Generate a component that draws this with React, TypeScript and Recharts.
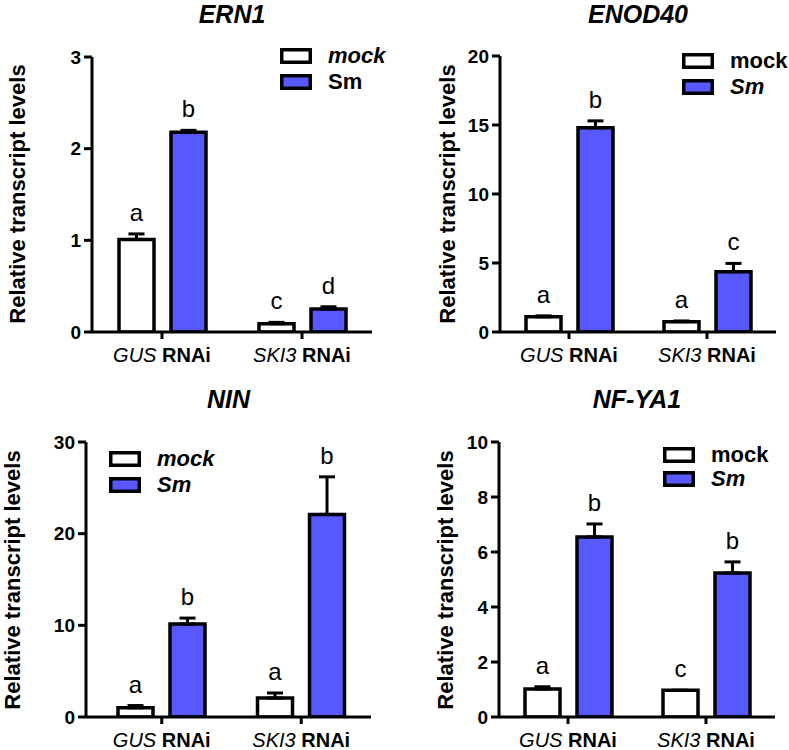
import React from 'react';
import { BarChart, Bar, XAxis, YAxis, ErrorBar, LabelList, Legend } from 'recharts';

const FONT = '"Liberation Sans", Arial, Helvetica, sans-serif';
const BLUE = '#5858FF';

// ---------- data ----------
const categories = ['GUS', 'SKI3'];
const categorySuffix = 'RNAi';
const seriesNames = ['mock', 'Sm'];

const ern1Mock = [1.01, 0.09];
const ern1MockErr = [0.06, 0.015];
const ern1Sm = [2.18, 0.25];
const ern1SmErr = [0.02, 0.025];
const ern1MockLetters = ['a', 'c'];
const ern1SmLetters = ['b', 'd'];
const ern1Ticks = [0, 1, 2, 3];

const enod40Mock = [1.1, 0.75];
const enod40MockErr = [0.07, 0.05];
const enod40Sm = [14.8, 4.37];
const enod40SmErr = [0.5, 0.6];
const enod40MockLetters = ['a', 'a'];
const enod40SmLetters = ['b', 'c'];
const enod40Ticks = [0, 5, 10, 15, 20];

const ninMock = [1.0, 2.07];
const ninMockErr = [0.25, 0.55];
const ninSm = [10.14, 22.1];
const ninSmErr = [0.65, 4.1];
const ninMockLetters = ['a', 'a'];
const ninSmLetters = ['b', 'b'];
const ninTicks = [0, 10, 20, 30];

const nfyaMock = [1.02, 0.97];
const nfyaMockErr = [0.08, 0];
const nfyaSm = [6.55, 5.24];
const nfyaSmErr = [0.47, 0.4];
const nfyaMockLetters = ['a', 'c'];
const nfyaSmLetters = ['b', 'b'];
const nfyaTicks = [0, 2, 4, 6, 8, 10];

type Row = {
  name: string;
  mock: number;
  mockErr: number[];
  mockLetter: string;
  sm: number;
  smErr: number[];
  smLetter: string;
};

function buildRows(
  mock: number[], mockErr: number[], sm: number[], smErr: number[],
  mockLetters: string[], smLetters: string[]
): Row[] {
  return categories.map((c, i) => ({
    name: c,
    mock: mock[i],
    mockErr: [0, mockErr[i]],
    mockLetter: mockLetters[i],
    sm: sm[i],
    smErr: [0, smErr[i]],
    smLetter: smLetters[i],
  }));
}

type PanelCfg = {
  title: string;
  rows: Row[];
  ticks: number[];
  left: number;
  top: number;
  width: number;
  height: number;
  yAxisWidth: number;
  padLeft: number;
  margin: { top: number; right: number; bottom: number; left: number };
  legendPos: { left: number; top: number; gap: number };
  italic: boolean[];
  labelX: number;
  labelY: number;
  titleY: number;
};

const panels: PanelCfg[] = [
  {
    title: 'ERN1',
    rows: buildRows(ern1Mock, ern1MockErr, ern1Sm, ern1SmErr, ern1MockLetters, ern1SmLetters),
    ticks: ern1Ticks,
    left: 0, top: 0, width: 400, height: 370,
    yAxisWidth: 92, padLeft: 0,
    margin: { top: 57, right: 28, bottom: 8, left: 0 },
    legendPos: { left: 280, top: 48, gap: 26 },
    italic: [true, false],
    labelX: 25, labelY: 194, titleY: 23,
  },
  {
    title: 'ENOD40',
    rows: buildRows(enod40Mock, enod40MockErr, enod40Sm, enod40SmErr, enod40MockLetters, enod40SmLetters),
    ticks: enod40Ticks,
    left: 400, top: 0, width: 389, height: 370,
    yAxisWidth: 100, padLeft: 0,
    margin: { top: 56, right: 13, bottom: 8, left: 0 },
    legendPos: { left: 282, top: 53, gap: 26 },
    italic: [false, true],
    labelX: 55, labelY: 194, titleY: 23,
  },
  {
    title: 'NIN',
    rows: buildRows(ninMock, ninMockErr, ninSm, ninSmErr, ninMockLetters, ninSmLetters),
    ticks: ninTicks,
    left: 0, top: 380, width: 400, height: 370,
    yAxisWidth: 86, padLeft: 6,
    margin: { top: 62, right: 29, bottom: 3, left: 0 },
    legendPos: { left: 109, top: 71, gap: 26 },
    italic: [true, true],
    labelX: 20, labelY: 200, titleY: 28,
  },
  {
    title: 'NF-YA1',
    rows: buildRows(nfyaMock, nfyaMockErr, nfyaSm, nfyaSmErr, nfyaMockLetters, nfyaSmLetters),
    ticks: nfyaTicks,
    left: 400, top: 380, width: 389, height: 370,
    yAxisWidth: 99, padLeft: 0,
    margin: { top: 62, right: 14, bottom: 3, left: 0 },
    legendPos: { left: 263, top: 67, gap: 24 },
    italic: [false, true],
    labelX: 53, labelY: 200, titleY: 28,
  },
];

// ---------- components ----------
const XTick = (props: any) => {
  const { x, y, payload } = props;
  return (
    <text x={x} y={y + 23} textAnchor="middle" fontSize={20} fontFamily={FONT} fill="#000" style={{ whiteSpace: 'pre' }}>
      <tspan fontStyle="italic">{payload.value}</tspan>
      <tspan fontWeight="bold">{' ' + categorySuffix}</tspan>
    </text>
  );
};

function makeLetter(rows: Row[], valueKey: 'mock' | 'sm', errKey: 'mockErr' | 'smErr', letterKey: 'mockLetter' | 'smLetter') {
  return (props: any) => {
    const vb = props.viewBox && props.viewBox.width !== undefined ? props.viewBox : props;
    const row = rows.find((r) => r.name === props.value);
    if (!row) return null;
    let { x, y, width, height } = vb;
    if (height < 0) {
      y = y + height;
      height = -height;
    }
    const v = row[valueKey];
    const e = row[errKey][1];
    const pxPerUnit = v ? height / v : 0;
    const topY = y - e * pxPerUnit;
    return (
      <text x={x + width / 2} y={topY - 13} textAnchor="middle" fontSize={24} fontFamily={FONT} fill="#000">
        {row[letterKey]}
      </text>
    );
  };
}

function makeLegend(cfg: PanelCfg) {
  return (props: any) => {
    const payload = [...(props.payload || [])].sort(
      (a: any, b: any) => seriesNames.indexOf(a.value) - seriesNames.indexOf(b.value)
    );
    const { gap } = cfg.legendPos;
    return (
      <svg width={140} height={50} style={{ overflow: 'visible', display: 'block' }}>
        {payload.map((p: any, i: number) => (
          <g key={i}>
            <rect x={1.75} y={1.75 + i * gap} width={28.5} height={12.5} fill={p.color} stroke="#000" strokeWidth={3.5} />
            <text
              x={48}
              y={15 + i * gap}
              fontSize={22}
              fontWeight="bold"
              fontStyle={cfg.italic[i] ? 'italic' : 'normal'}
              fontFamily={FONT}
              fill="#000"
            >
              {p.value}
            </text>
          </g>
        ))}
      </svg>
    );
  };
}

function Panel({ cfg }: { cfg: PanelCfg }) {
  const max = cfg.ticks[cfg.ticks.length - 1];
  const plotLeft = cfg.yAxisWidth + cfg.margin.left;
  const plotRight = cfg.width - cfg.margin.right;
  const titleX = (plotLeft + plotRight) / 2;
  return (
    <div style={{ position: 'absolute', left: cfg.left, top: cfg.top, width: cfg.width, height: cfg.height }}>
      <BarChart
        width={cfg.width}
        height={cfg.height}
        data={cfg.rows}
        margin={cfg.margin}
        barSize={35}
        barGap={17}
      >
        <XAxis
          dataKey="name"
          height={30}
          padding={{ left: cfg.padLeft, right: 0 }}
          axisLine={{ stroke: '#000', strokeWidth: 3 }}
          tickLine={{ stroke: '#000', strokeWidth: 3 }}
          tickSize={7}
          tickMargin={0}
          tick={<XTick />}
          interval={0}
        />
        <YAxis
          width={cfg.yAxisWidth}
          domain={[0, max]}
          ticks={cfg.ticks}
          interval={0}
          allowDataOverflow
          axisLine={{ stroke: '#000', strokeWidth: 3 }}
          tickLine={{ stroke: '#000', strokeWidth: 3 }}
          tickSize={8}
          tickMargin={3}
          tick={{ fontSize: 19, fontWeight: 'bold', fill: '#000', fontFamily: FONT }}
        />
        <Legend
          layout="vertical"
          align="center"
          verticalAlign="middle"
          wrapperStyle={{ left: cfg.legendPos.left, top: cfg.legendPos.top, width: 140, height: 50 }}
          content={makeLegend(cfg)}
        />
        <Bar dataKey="mock" name={seriesNames[0]} fill="#FFFFFF" stroke="#000" strokeWidth={3.5} isAnimationActive={false}>
          <ErrorBar dataKey="mockErr" width={8} stroke="#000" strokeWidth={3} direction="y" />
          <LabelList dataKey="name" content={makeLetter(cfg.rows, 'mock', 'mockErr', 'mockLetter')} />
        </Bar>
        <Bar dataKey="sm" name={seriesNames[1]} fill={BLUE} stroke="#000" strokeWidth={3.5} isAnimationActive={false}>
          <ErrorBar dataKey="smErr" width={8} stroke="#000" strokeWidth={3} direction="y" />
          <LabelList dataKey="name" content={makeLetter(cfg.rows, 'sm', 'smErr', 'smLetter')} />
        </Bar>
      </BarChart>
      <svg
        width={cfg.width}
        height={cfg.height}
        style={{ position: 'absolute', left: 0, top: 0, pointerEvents: 'none' }}
      >
        <text x={titleX} y={cfg.titleY} textAnchor="middle" fontSize={25} fontWeight="bold" fontStyle="italic" fontFamily={FONT} fill="#000">
          {cfg.title}
        </text>
        <text
          transform={`translate(${cfg.labelX}, ${cfg.labelY}) rotate(-90)`}
          textAnchor="middle"
          fontSize={22}
          fontWeight="bold"
          fontFamily={FONT}
          fill="#000"
        >
          Relative transcript levels
        </text>
      </svg>
    </div>
  );
}

export default function App() {
  return (
    <div style={{ position: 'absolute', left: 0, top: 0, width: 789, height: 750, background: '#fff', fontFamily: FONT }}>
      {panels.map((p) => (
        <Panel key={p.title} cfg={p} />
      ))}
    </div>
  );
}
